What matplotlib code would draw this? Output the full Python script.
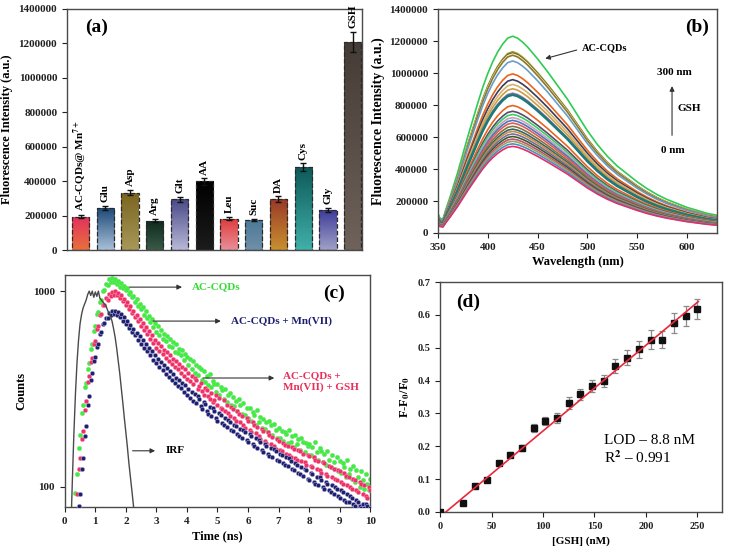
"""Four-panel figure: selectivity bars, GSH titration spectra, decay curves, calibration."""

import matplotlib.pyplot as plt
import numpy as np
from matplotlib.colors import LinearSegmentedColormap
from matplotlib.ticker import FixedLocator, MultipleLocator, NullLocator, StrMethodFormatter

# ---------------------------------------------------------------------------
# (a) selectivity
# ---------------------------------------------------------------------------
analytes = ["AC-CQDs@ Mn$^{\\mathbf{7+}}$", "Glu", "Asp", "Arg", "Glt", "AA",
            "Leu", "Suc", "DA", "Cys", "Gly", "GSH"]
bar_means = [194000, 243000, 334000, 171000, 295000, 398000,
             183000, 175000, 295000, 480000, 233000, 1208000]
bar_errs = [10000, 12000, 17000, 8000, 15000, 18000,
            8000, 8000, 17000, 23000, 10000, 60000]
# (top colour, bottom colour) of each gradient bar
bar_grad = [("#e3305f", "#e8703c"), ("#1e4a78", "#a8c0d8"), ("#7a6420", "#a89858"),
            ("#0e2a1e", "#3a5a48"), ("#4a4a88", "#b8b8d8"), ("#000000", "#1c1c1c"),
            ("#e03a3a", "#e8909a"), ("#4a7898", "#7090a8"), ("#9a3a28", "#c89030"),
            ("#0e5a5a", "#40b0a8"), ("#3a3a98", "#a0a0c8"), ("#463c36", "#6e625a")]

# ---------------------------------------------------------------------------
# (b) emission spectra during GSH titration
# ---------------------------------------------------------------------------
wavelength = [350, 352, 355, 358, 362, 366, 370, 375, 380, 385,
              390, 395, 400, 405, 410, 415, 420, 425, 430, 435,
              440, 450, 460, 470, 480, 490, 500, 510, 520, 530,
              540, 550, 560, 570, 580, 590, 600, 610, 620, 630]
band_shape = [0.10, 0.075, 0.07, 0.12, 0.18, 0.245, 0.31, 0.40, 0.49, 0.575,
              0.66, 0.74, 0.81, 0.87, 0.92, 0.96, 0.99, 1.00, 0.99, 0.97,
              0.945, 0.885, 0.82, 0.75, 0.68, 0.60, 0.52, 0.45, 0.39, 0.34,
              0.30, 0.26, 0.225, 0.195, 0.17, 0.15, 0.13, 0.115, 0.10, 0.09]
peak_heights = [1232000, 1135000, 1127000, 1120000, 1113000, 1077000, 996000,
                960000, 930000, 903000, 876000, 866000, 798000, 762000, 742000,
                722000, 705000, 688000, 668000, 650000, 636000, 620000, 604000,
                588000, 574000, 558000, 542000]
spectrum_colors = ["#2ecc55", "#a0a040", "#6b5a2a", "#fff2b0", "#8a7a30", "#6a9ec8",
                   "#e8641c", "#3c3c5a", "#d8b070", "#c8a040", "#c47ac8", "#1e7a7a",
                   "#e8641c", "#5a4a6a", "#3ccc66", "#c8a0c0", "#4a78b8", "#e05a5a",
                   "#8c7040", "#2a6a6a", "#d08a40", "#7070a0", "#3a5a2a", "#c05070",
                   "#a0a060", "#4a90c0", "#e0306a"]

# ---------------------------------------------------------------------------
# (c) fluorescence decays, 0.05 ns channels starting at 0.30 ns
# ---------------------------------------------------------------------------
green_counts = [
    68, 93, 116, 158, 184, 238, 262, 322, 341, 402,
    428, 506, 538, 628, 664, 762, 786, 884, 902, 1002,
    1012, 1092, 1078, 1150, 1108, 1172, 1118, 1150, 1088, 1126,
    1052, 1098, 1040, 1062, 1012, 1040, 962, 994, 928, 948,
    882, 912, 838, 862, 806, 832, 752, 790, 726, 748,
    692, 722, 658, 684, 618, 660, 600, 636, 570, 604,
    558, 590, 526, 568, 518, 552, 490, 536, 484, 508,
    472, 500, 446, 478,
    462, 418, 452, 402, 438, 384, 420, 372, 410, 398,
    352, 392, 344, 368, 330, 376, 322, 348, 336, 306,
    334, 296, 322, 312, 282, 318, 270, 296, 302, 262,
    288, 258, 276, 244, 282, 262, 236, 268, 232, 254,
    226, 252, 218, 240, 234, 208, 246, 214, 228, 200,
    222, 198, 214, 190, 218, 206, 184, 210, 196, 178,
    200, 178, 194, 172, 190, 186, 168, 196, 170, 182,
    160, 184, 166, 176, 154, 178, 170, 150, 168, 162,
    166, 146, 160, 142, 170, 150, 138, 158, 152, 134,
    148, 130, 152, 138, 126, 146, 134, 124, 142, 120,
    136, 118, 132, 126, 112, 138, 116, 124, 110, 128,
    106, 122, 112, 100, 120, 108, 98, 116, 104, 96,
    110]
red_counts = [
    54, 72, 92, 124, 140, 176, 194, 248, 276, 342,
    368, 434, 458, 538, 556, 640, 664, 752, 764, 852,
    852, 924, 906, 968, 944, 992, 958, 998, 952, 982,
    926, 956, 892, 914, 852, 878, 812, 836, 776, 792,
    736, 758, 700, 722, 664, 690, 632, 656, 602, 622,
    570, 596, 542, 566, 514, 542, 494, 522, 476, 502,
    458, 488, 440, 474, 424, 452, 412, 438, 398, 424,
    384, 410, 370, 398, 356, 384, 346, 370, 334, 358,
    350, 318, 328, 340, 308, 296, 320, 312, 290, 280,
    302, 270, 278, 294, 262, 286, 254, 250, 278, 244,
    262, 238, 230, 256, 250, 224, 218, 244, 236, 214,
    230, 206, 200, 224, 218, 196, 190, 214, 206, 188,
    202, 182, 176, 198, 194, 172, 168, 190, 184, 166,
    180, 162, 156, 176, 172, 154, 152, 168, 164, 148,
    162, 146, 142, 160, 156, 140, 138, 154, 152, 136,
    148, 134, 130, 146, 144, 128, 126, 142, 138, 124,
    136, 122, 118, 134, 132, 116, 114, 128, 126, 112,
    124, 110, 108, 122, 120, 106, 104, 118, 114, 102,
    112, 100, 98, 110, 108, 96, 94, 106, 104, 92,
    102, 90, 88, 100, 96]
blue_counts = [
    40, 48, 60, 80, 92, 124, 140, 182, 205, 262,
    292, 352, 380, 438, 462, 518, 540, 602, 618, 680,
    684, 730, 728, 770, 752, 792, 762, 796, 754, 784,
    736, 762, 706, 736, 678, 704, 650, 672, 618, 640,
    596, 610, 566, 588, 540, 562, 514, 538, 492, 512,
    470, 492, 446, 474, 430, 452, 410, 436, 394, 420,
    378, 404, 364, 392, 352, 376, 340, 362, 326, 350,
    320, 340, 306, 330, 296, 318, 284, 306, 276, 298,
    268, 290, 282, 260, 250, 272, 264, 244, 236, 256,
    230, 252, 244, 226, 218, 238, 232, 212, 206, 226,
    202, 220, 214, 196, 192, 208, 204, 186, 182, 198,
    178, 196, 190, 174, 170, 186, 182, 166, 162, 178,
    158, 174, 170, 154, 150, 166, 162, 148, 144, 158,
    142, 156, 152, 138, 136, 148, 146, 132, 130, 142,
    128, 140, 136, 124, 122, 132, 130, 118, 116, 126,
    114, 124, 122, 110, 108, 118, 116, 106, 104, 112,
    102, 112, 108, 100, 98, 106, 104, 96, 94, 102,
    92, 100, 98, 90, 88, 96, 94, 86, 84, 92,
    84, 90, 88, 82, 80, 86, 84, 80, 78, 82,
    78, 82, 80, 76, 78]
# instrument response, 0.05 ns channels starting at 0.20 ns
irf_counts = [60, 110, 190, 300, 430, 560, 680, 760, 820, 860,
              900, 960, 1000, 950, 1000, 930, 990, 940, 1000, 920,
              900, 880, 860, 840, 800, 770, 740, 700, 640, 580,
              510, 440, 380, 320, 270, 225, 190, 160, 132, 112,
              95, 80, 68]

# ---------------------------------------------------------------------------
# (d) calibration
# ---------------------------------------------------------------------------
gsh_nM = [0, 22.7, 34.1, 45.4, 56.8, 68.1, 79.5, 90.8, 102.2, 113.6, 125.0,
          136.3, 147.7, 159.0, 170.4, 181.8, 193.2, 204.5, 215.9, 227.2, 238.6, 250.0]
response = [0.0, 0.027, 0.078, 0.098, 0.149, 0.175, 0.195, 0.257, 0.277, 0.286, 0.333,
            0.358, 0.383, 0.399, 0.444, 0.470, 0.495, 0.525, 0.525, 0.576, 0.596, 0.617]
response_err = [0.0, 0.004, 0.005, 0.005, 0.007, 0.008, 0.010, 0.012, 0.013, 0.014, 0.018,
                0.017, 0.019, 0.019, 0.022, 0.023, 0.025, 0.028, 0.025, 0.030, 0.030, 0.030]
fit_slope = 0.00261
fit_intercept = -0.0144
fit_range = (5.5, 251.0)

plt.rcParams.update({
    "font.family": "serif",
    "font.serif": ["Liberation Serif", "DejaVu Serif"],
    "font.weight": "bold",
    "axes.labelweight": "bold",
    "mathtext.fontset": "stix",
    "axes.edgecolor": "#4a4a4a",
    "axes.linewidth": 1.0,
    "xtick.direction": "out",
    "ytick.direction": "out",
    "xtick.major.size": 3.5,
    "ytick.major.size": 3.5,
    "xtick.color": "#222222",
    "ytick.color": "#222222",
})

fig = plt.figure(figsize=(7.36, 5.52), dpi=100)

# -- (a) --
ax = fig.add_axes([0.091, 0.547, 0.401, 0.437])
xpos = np.arange(1, len(analytes) + 1)
bars = ax.bar(xpos, bar_means, width=0.7, color="none", edgecolor="#2a2a2a",
              linestyle="--", linewidth=0.9, zorder=3)
ramp = np.linspace(0, 1, 64).reshape(-1, 1)
for rect, (top, bottom) in zip(bars, bar_grad):
    cmap = LinearSegmentedColormap.from_list("ramp", [bottom, top])
    x0, w, h = rect.get_x(), rect.get_width(), rect.get_height()
    im = ax.imshow(ramp, extent=(x0, x0 + w, 0, h), origin="lower", cmap=cmap,
                   aspect="auto", zorder=2)
    im.set_clip_path(rect)
ax.errorbar(xpos, bar_means, yerr=bar_errs, fmt="none", ecolor="#111111",
            elinewidth=1.0, capsize=2.5, capthick=1.0, zorder=4)
for xi, m, e, lab in zip(xpos, bar_means, bar_errs, analytes):
    ax.text(xi, m + e + 22000, lab, rotation=90, ha="center", va="bottom", fontsize=8)
ax.set_xlim(0.45, 12.38)
ax.set_ylim(0, 1400000)
ax.yaxis.set_major_locator(MultipleLocator(200000))
ax.yaxis.set_major_formatter(StrMethodFormatter("{x:.0f}"))
ax.xaxis.set_major_locator(NullLocator())
ax.tick_params(labelsize=8)
ax.set_ylabel("Fluorescence Intensity (a.u.)", fontsize=9, labelpad=4)
ax.text(0.06, 0.925, "(a)", transform=ax.transAxes, fontsize=14, va="center")

# -- (b) --
ax = fig.add_axes([0.595, 0.578, 0.379, 0.405])
shape = np.array(band_shape)
for pk, col in zip(peak_heights, spectrum_colors):
    lw = 2.0 if col == "#1e7a7a" else 1.2
    ax.plot(wavelength, pk * shape, color=col, lw=lw)
ax.set_xlim(350, 630)
ax.set_ylim(0, 1400000)
ax.xaxis.set_major_locator(MultipleLocator(50))
ax.yaxis.set_major_locator(MultipleLocator(200000))
ax.yaxis.set_major_formatter(StrMethodFormatter("{x:.0f}"))
ax.tick_params(labelsize=8)
ax.set_xlabel("Wavelength (nm)", fontsize=9, labelpad=3)
ax.set_ylabel("Fluorescence Intensity (a.u.)", fontsize=10, labelpad=3)
ax.annotate("", xy=(455, 1087000), xytext=(492, 1150000),
            arrowprops=dict(arrowstyle="-|>", color="#333333", lw=0.8, mutation_scale=7))
ax.text(495, 1160000, "AC-CQDs", fontsize=7.5, va="center")
ax.annotate("", xy=(585, 937000), xytext=(585, 594000),
            arrowprops=dict(arrowstyle="-|>", color="#333333", lw=0.8, mutation_scale=7))
ax.text(570, 1006000, "300 nm", fontsize=8, va="center")
ax.text(590, 781000, "GSH", fontsize=8, va="center")
ax.text(574, 519000, "0 nm", fontsize=8, va="center")
ax.text(0.93, 0.92, "(b)", transform=ax.transAxes, fontsize=14, va="center", ha="center")

# -- (c) --
ax = fig.add_axes([0.088, 0.0815, 0.415, 0.4205])
t = np.round(0.30 + 0.05 * np.arange(len(green_counts)), 2)
t_irf = np.round(0.20 + 0.05 * np.arange(len(irf_counts)), 2)
ax.scatter(t, green_counts, s=10, facecolor="#3cf03c", edgecolor="#7ad87a", lw=0.3, zorder=2)
ax.scatter(t, red_counts, s=10, facecolor="#f0306a", edgecolor="#f59ab0", lw=0.3, zorder=3)
ax.scatter(t, blue_counts, s=10, facecolor="#1e1e6e", edgecolor="#a8a8d0", lw=0.4, zorder=4)
ax.plot(t_irf, irf_counts, color="#4a4a4a", lw=1.0, zorder=5)
ax.set_yscale("log")
ax.set_xlim(0, 10)
ax.set_ylim(79, 1210)
ax.xaxis.set_major_locator(MultipleLocator(1))
ax.yaxis.set_major_locator(FixedLocator([100, 1000]))
ax.yaxis.set_minor_locator(NullLocator())
ax.yaxis.set_major_formatter(StrMethodFormatter("{x:.0f}"))
ax.tick_params(labelsize=8)
ax.set_xlabel("Time (ns)", fontsize=9, labelpad=3)
ax.set_ylabel("Counts", fontsize=9, labelpad=4)
arrow = dict(arrowstyle="-|>", color="#333333", lw=0.8, mutation_scale=7)
ax.annotate("", xy=(3.93, 1048), xytext=(2.03, 1048), arrowprops=arrow)
ax.text(4.15, 1048, "AC-CQDs", color="#33dd33", fontsize=8, va="center")
ax.annotate("", xy=(5.2, 703), xytext=(2.8, 703), arrowprops=arrow)
ax.text(5.45, 703, "AC-CQDs + Mn(VII)", color="#1e1e6e", fontsize=8, va="center")
ax.annotate("", xy=(6.95, 360), xytext=(4.43, 360), arrowprops=arrow)
ax.text(7.15, 345, "AC-CQDs +\nMn(VII) + GSH", color="#e8305a", fontsize=8,
        va="center", linespacing=1.3)
ax.annotate("", xy=(3.05, 153), xytext=(2.13, 153), arrowprops=arrow)
ax.text(3.3, 153, "IRF", fontsize=8, va="center")
ax.text(0.88, 0.92, "(c)", transform=ax.transAxes, fontsize=14, va="center", ha="center")

# -- (d) --
ax = fig.add_axes([0.598, 0.0725, 0.383, 0.4165])
ax.errorbar(gsh_nM, response, yerr=response_err, fmt="none", ecolor="#8a8a8a",
            elinewidth=0.9, capsize=2.5, capthick=0.9, zorder=2)
ax.plot(gsh_nM, response, "s", color="#111111", ms=4.5, zorder=3)
fit_x = np.array(fit_range)
ax.plot(fit_x, fit_slope * fit_x + fit_intercept, color="#e8283c", lw=1.2, zorder=4)
ax.set_xlim(0, 274)
ax.set_ylim(0, 0.7)
ax.xaxis.set_major_locator(MultipleLocator(50))
ax.yaxis.set_major_locator(MultipleLocator(0.1))
ax.yaxis.set_major_formatter(StrMethodFormatter("{x:.1f}"))
ax.tick_params(labelsize=7.5)
ax.set_xlabel("[GSH] (nM)", fontsize=8, labelpad=4)
ax.set_ylabel("F-F$_\\mathbf{0}$/F$_\\mathbf{0}$", fontsize=9, labelpad=4)
ax.text(0.58, 0.31, "LOD \u2013 8.8 nM", transform=ax.transAxes, fontsize=11,
        fontweight="normal", va="center")
ax.text(0.58, 0.235, "R$^2$ \u2013 0.991", transform=ax.transAxes, fontsize=11,
        fontweight="normal", va="center")
ax.text(0.1, 0.91, "(d)", transform=ax.transAxes, fontsize=14, va="center", ha="center")

fig.savefig("out.png", dpi=100)
